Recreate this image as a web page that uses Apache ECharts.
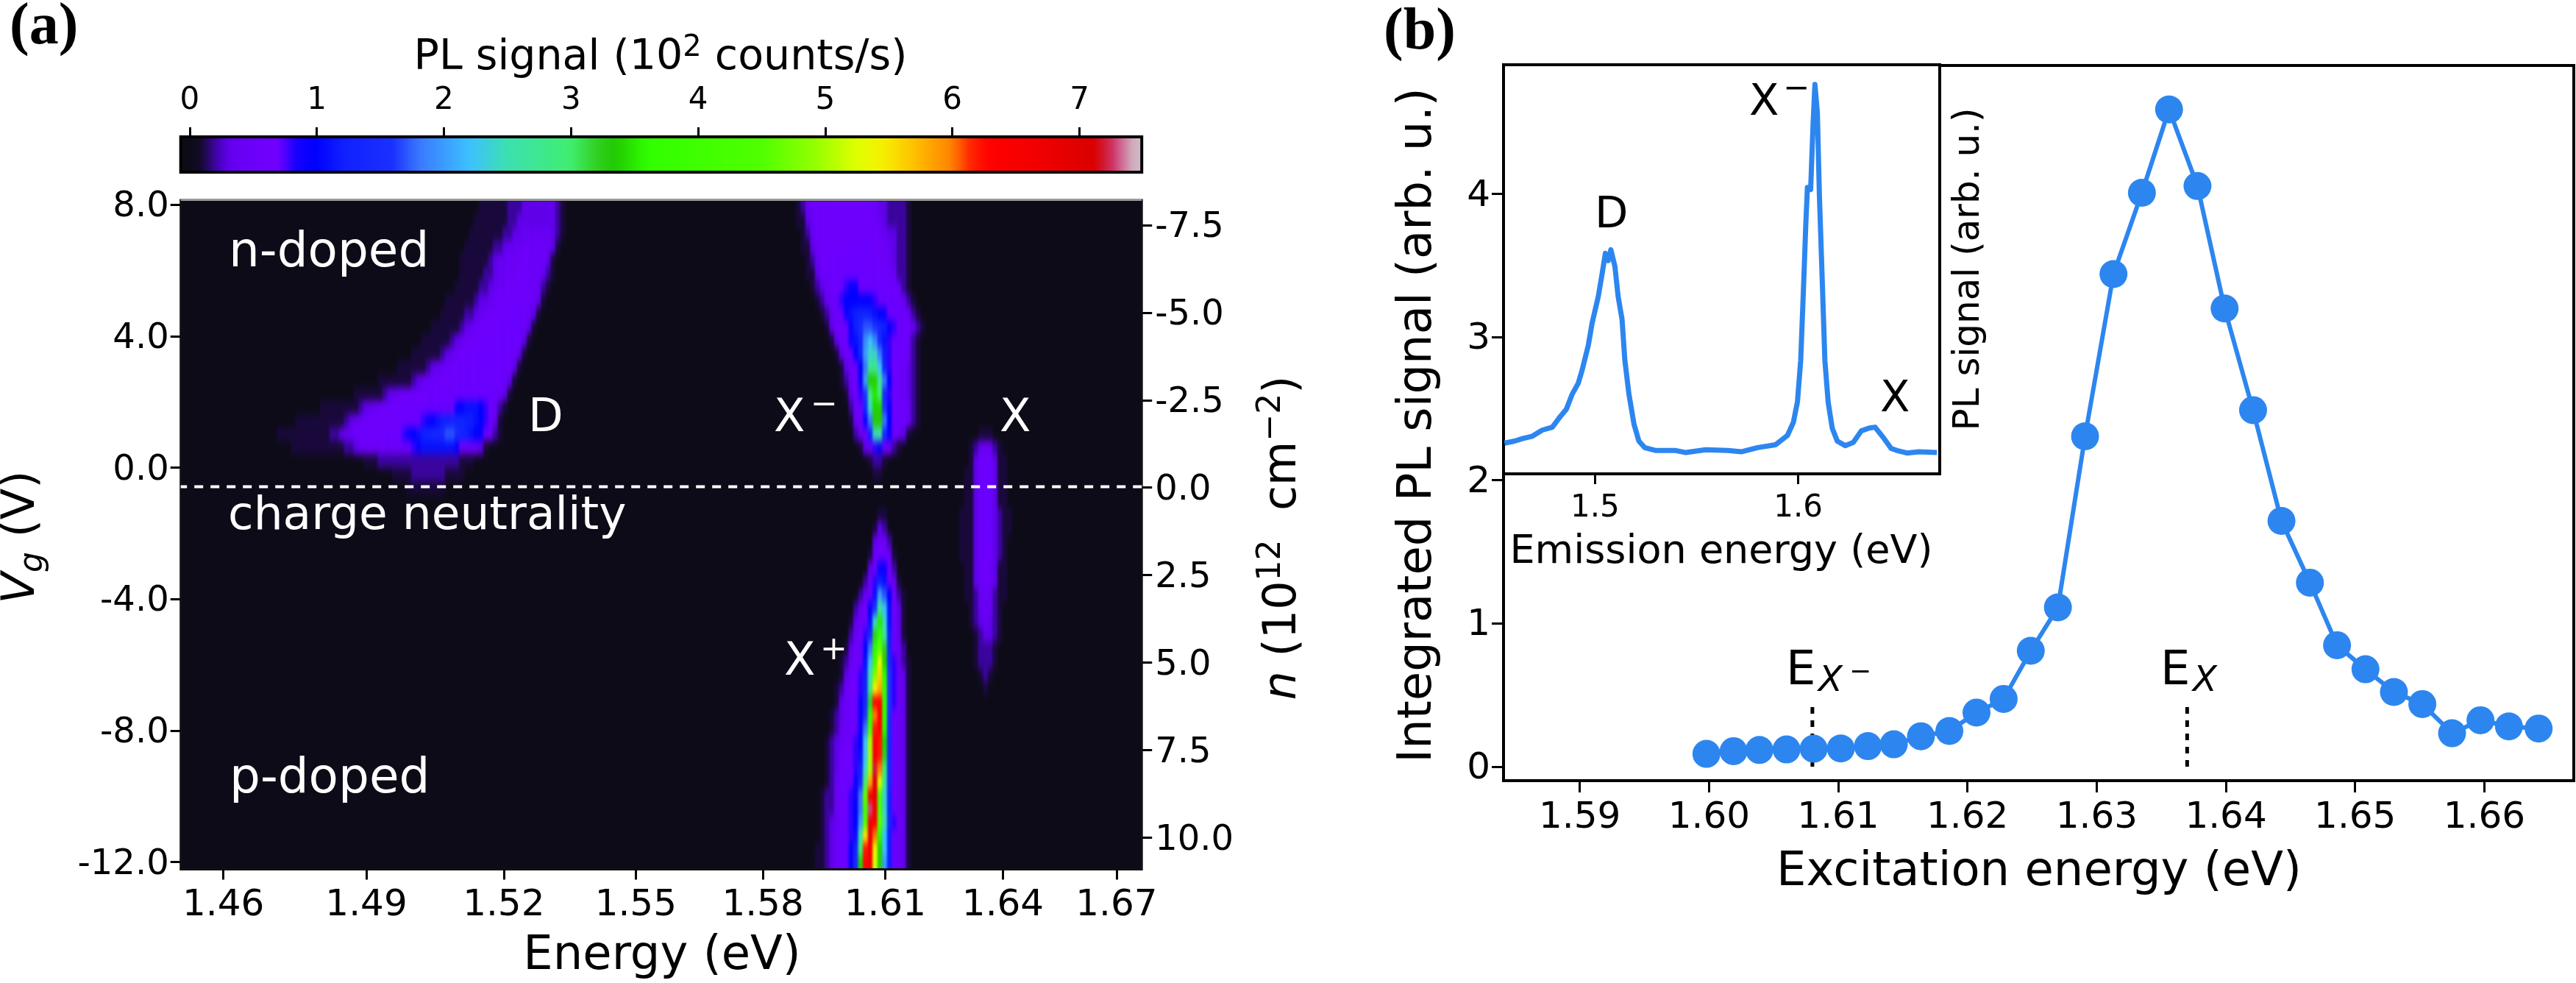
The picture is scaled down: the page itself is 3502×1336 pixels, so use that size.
<!DOCTYPE html>
<html><head><meta charset="utf-8">
<script src="https://cdn.jsdelivr.net/npm/echarts@6/dist/echarts.min.js"></script>
<style>
html,body{margin:0;padding:0;background:#fff}
#c{width:3502px;height:1336px}
/* the map layer: soft sensor-like pixels, cut to the axes frame */
canvas[data-zr-dom-id="zr_-1"]{background:#0d0b17;filter:url(#heatSoft);clip-path:inset(272px 1949.8px 154.5px 245.7px)}
</style>
</head><body>
<svg width="0" height="0" style="position:absolute"><filter id="heatSoft" x="0" y="0" width="100%" height="100%" color-interpolation-filters="sRGB"><feGaussianBlur stdDeviation="1.8 6"/></filter></svg>
<div id="c"></div>
<script>
// ---------- panel (a): PL map ----------
// every row: [rowIndex, firstColumn, values...]; values in tenths of 10^2 counts/s
const defectBand = [
[0,62,1,1,1,1,1,1,2,2,2,3,3,3,3,3,3,3,2,1],
[1,61,1,1,1,1,1,1,1,2,2,3,3,3,3,3,3,3,3,2,1],
[2,60,1,1,1,1,1,1,1,2,2,3,3,4,4,4,4,4,4,3,2,1],
[3,59,1,1,1,1,1,1,2,2,3,4,4,5,5,5,5,5,5,4,3,1],
[4,58,1,1,1,1,1,1,2,3,4,4,5,5,5,6,6,5,5,5,3,1],
[5,58,1,1,1,1,1,2,2,3,4,5,5,5,6,6,6,5,5,4,2,1],
[6,57,1,1,1,1,1,2,2,3,4,5,5,6,6,6,6,6,5,4,2,1],
[7,55,1,1,1,1,1,1,2,3,3,4,5,6,6,6,6,6,6,6,5,3,1],
[8,54,1,1,1,1,1,2,2,3,4,5,6,6,6,6,7,7,7,6,5,3,1],
[9,52,1,1,1,1,1,1,2,3,4,5,6,6,6,7,7,7,7,7,7,6,3,1],
[10,50,1,1,1,1,1,1,2,3,4,5,6,6,6,7,7,7,7,7,7,7,6,3,1],
[11,48,1,1,1,1,1,1,2,3,4,5,6,6,6,7,7,7,7,7,7,7,7,6,3,1],
[12,45,1,1,1,1,1,1,2,3,4,5,6,6,6,7,7,7,7,7,7,7,7,7,7,6,3,1],
[13,41,1,1,1,1,1,1,1,2,3,4,5,6,6,6,6,7,7,7,7,7,7,7,7,7,7,7,6,3,1],
[14,36,1,1,1,1,1,1,2,3,4,5,6,6,6,6,6,7,7,7,7,7,7,7,7,7,7,7,7,7,7,7,5,3,1],
[15,29,1,1,1,1,1,1,1,1,2,3,4,5,6,6,6,6,6,7,7,7,7,7,7,7,7,7,7,7,9,10,11,11,11,10,8,6,4,2,1],
[16,24,1,1,1,1,1,1,1,1,1,1,2,3,4,5,6,6,6,6,6,6,6,7,7,7,7,7,8,9,10,11,12,12,13,13,13,12,12,11,10,8,6,3,1],
[17,20,1,1,1,1,1,1,1,1,1,1,1,2,2,3,4,5,6,6,6,6,6,6,6,7,7,7,8,9,10,11,12,13,14,14,15,17,17,15,13,12,11,10,9,7,4,2,1],
[18,23,1,1,1,1,1,1,1,1,1,1,1,2,2,3,5,6,6,6,6,6,6,6,6,7,7,8,9,11,11,11,11,11,11,11,9,7,6,6,5,3,1],
[19,38,1,1,1,2,2,2,2,2,2,2,2,2,2,2,2,2,2,2,2,2,1,1,1],
[20,44,1,1,1,1,2,2,2,2,2,2,2,1,1,1,1],
[21,47,1,1,1,1,1,1,1,1]
];
const trionMinus = [
[0,128,1,2,4,5,6,6,6,6,6,6,6,6,6,6,6,6,5,3,3,2,2,2,2,1],
[1,128,1,1,3,5,6,6,6,6,6,6,6,6,6,6,6,6,5,4,3,2,2,2,2,1],
[2,129,1,2,4,6,6,6,6,6,6,6,6,6,6,6,6,6,5,4,3,3,2,2,1],
[3,129,1,1,3,5,6,6,6,6,6,6,7,7,7,7,7,6,6,5,4,3,2,2,1],
[4,130,1,2,4,6,6,7,7,7,7,7,7,7,7,7,7,6,6,4,3,2,2,1],
[5,130,1,1,3,5,6,7,7,7,7,7,7,7,7,7,7,7,7,5,4,2,2,1],
[6,131,1,2,3,5,6,7,7,8,9,9,7,7,7,7,7,7,7,6,4,2,1],
[7,132,1,2,4,6,7,8,10,10,10,10,10,9,8,7,7,7,7,6,4,2,1],
[8,133,1,2,4,6,7,9,11,12,13,13,12,11,10,9,7,7,7,6,4,2,1],
[9,134,1,3,5,6,7,9,12,15,17,17,16,14,12,10,8,7,7,6,4,2,1],
[10,135,1,3,5,7,9,11,13,19,22,19,14,11,8,7,7,6,4,2,1],
[11,136,1,3,5,7,10,13,20,24,24,18,12,8,7,7,6,4,2,1],
[12,137,1,3,5,7,10,18,27,28,22,13,8,7,7,5,3,2,1],
[13,137,1,2,4,6,9,20,33,34,26,18,10,7,7,5,3,2,1],
[14,138,1,3,6,8,16,28,35,30,14,8,7,7,5,3,2,1],
[15,139,2,5,7,14,24,34,34,16,9,7,7,6,4,2,1],
[16,139,1,4,6,9,18,33,33,18,10,7,7,6,4,2,1],
[17,140,2,4,7,12,24,26,14,9,7,5,3,1],
[18,141,1,3,6,8,9,7,5,2,1],
[19,143,1,2,2,1],
[20,144,1,1]
];
const exciton = [
[17,166,1,1,1],
[18,164,1,2,4,5,4,2,1],
[19,164,1,3,6,6,6,3,1,1],
[20,163,1,1,3,6,7,7,3,1,1],
[21,163,1,1,3,6,7,7,3,1,1],
[22,163,1,1,3,6,7,7,3,1,1],
[23,162,1,1,1,3,6,7,7,3,2,1,1],
[24,162,1,1,1,3,6,7,7,3,2,1,1],
[25,162,1,1,1,3,6,7,7,3,2,1],
[26,162,1,1,1,3,6,7,6,3,2,1],
[27,163,1,1,3,5,6,5,3,1,1],
[28,163,1,1,3,5,6,5,3,1,1],
[29,163,1,1,2,4,5,4,2,1,1],
[30,164,1,2,4,4,4,2,1],
[31,164,1,2,3,4,3,2,1],
[32,165,1,2,3,3,2,1],
[33,165,1,2,2,2,1],
[34,165,1,2,2,2,1],
[35,166,1,2,1],
[36,167,1]
];
const trionPlus = [
[23,145,1,1],
[24,144,1,3,2],
[25,144,3,5,5,2],
[26,143,1,4,6,6,4,1],
[27,143,3,6,9,9,6,2],
[28,142,2,5,8,12,11,7,4,1],
[29,141,2,4,7,11,20,17,10,6,2,1],
[30,140,2,4,6,9,16,27,22,11,6,3,1],
[31,139,1,3,5,7,11,24,35,24,11,6,3,1],
[32,139,2,4,6,8,14,32,38,26,12,7,3,1],
[33,138,1,3,5,7,10,18,36,46,32,13,7,4,2],
[34,137,1,2,4,6,7,11,22,40,53,34,14,8,4,2,1],
[35,137,1,3,5,7,8,12,26,48,56,36,16,8,5,3,1],
[36,136,1,2,4,6,7,8,13,28,54,58,38,16,8,5,3,1],
[37,136,1,3,5,6,7,9,14,32,64,63,38,16,8,5,3,1],
[38,135,1,2,3,5,7,7,9,16,38,60,64,38,15,7,5,3,1],
[39,135,1,2,4,5,7,7,9,18,42,62,63,36,14,7,5,3,1],
[40,134,1,2,3,4,6,7,8,10,22,50,64,62,34,14,7,5,3,1],
[41,134,1,2,3,5,6,7,8,11,22,50,65,62,32,14,7,5,3,1],
[42,134,1,2,3,5,6,7,8,12,24,50,72,60,30,14,7,5,3,1],
[43,134,1,2,4,6,7,7,9,14,30,58,70,52,28,14,7,5,3,1],
[44,133,1,2,2,4,6,7,8,9,18,46,66,68,44,24,13,7,5,3,1],
[45,133,1,2,2,4,6,7,8,10,18,42,73,66,44,24,13,7,5,3,1],
[46,133,1,2,3,4,6,7,8,10,20,44,66,66,46,26,14,8,5,3,1],
[47,133,1,2,3,5,7,7,8,11,26,55,68,60,36,22,12,7,5,3,1],
[48,132,1,1,2,3,5,7,7,9,13,30,62,66,54,34,22,12,7,5,3,1],
[49,132,1,1,2,3,5,7,7,9,14,34,63,65,52,34,20,12,7,5,3,1]
];
const heatColumnCount = 200, heatRowCount = 50;
const neutralityVg = -0.58;

// colour map stops: [10^2 counts/s, colour]
const colormapStops = [[-0.07,'#0d0b17'],[0.05,'#0d0b17'],[0.1,'#170a35'],[0.2,'#3a04a0'],[0.28,'#5f00e8'],[0.4,'#6800f5'],[0.7,'#7000ff'],[0.76,'#4a00ff'],[0.85,'#1000ff'],[1.0,'#0000ff'],[1.2,'#1020ff'],[1.6,'#1a30ff'],[1.8,'#3a78ff'],[2.2,'#3cc0ff'],[2.5,'#3ce0b0'],[3.0,'#40ee70'],[3.2,'#30d020'],[3.35,'#20c800'],[3.6,'#30ff00'],[4.5,'#50ff00'],[4.9,'#90ff00'],[5.25,'#e0ff00'],[5.45,'#f5f000'],[5.7,'#ffc000'],[6.0,'#ff8000'],[6.15,'#ff2000'],[6.3,'#ff0000'],[6.7,'#f00000'],[7.15,'#d80000'],[7.2,'#d02040'],[7.3,'#d04080'],[7.38,'#d0a0b0'],[7.5,'#d0c0d0']];

const energyTicks = [1.46,1.49,1.52,1.55,1.58,1.61,1.64,1.67];
const energyRange = [1.4513,1.6768];
const vgTicks = [-12,-8,-4,0,4,8];
const densityTicks = [-7.5,-5,-2.5,0,2.5,5,7.5,10];
const colorbarTicks = [0,1,2,3,4,5,6,7];

// ---------- panel (b) ----------
const excitationEnergy = [1.5998,1.6019,1.6039,1.6060,1.6081,1.6102,1.6123,1.6143,1.6164,1.6186,1.6207,1.6228,1.6249,1.6270,1.6291,1.6313,1.6335,1.6356,1.6378,1.6399,1.6421,1.6443,1.6465,1.6486,1.6508,1.6530,1.6552,1.6575,1.6597,1.6619,1.6642];
const integratedPL = [0.089,0.108,0.116,0.12,0.125,0.127,0.143,0.156,0.212,0.249,0.377,0.473,0.809,1.112,2.307,3.44,4.008,4.59,4.055,3.2,2.49,1.716,1.285,0.848,0.68,0.521,0.437,0.233,0.324,0.281,0.266];
const resonanceMarks = [1.608,1.637];
const resonanceMarkTop = 0.445;
const excitationTicks = [1.59,1.60,1.61,1.62,1.63,1.64,1.65,1.66];
const integratedTicks = [0,1,2,3,4];
const emissionEnergy = [1.4555,1.4604,1.4643,1.4692,1.4741,1.4790,1.4829,1.4859,1.4888,1.4918,1.4937,1.4967,1.4986,1.5016,1.5035,1.5051,1.5065,1.5078,1.5098,1.5114,1.5133,1.5147,1.5167,1.5192,1.5216,1.5245,1.5300,1.5398,1.5447,1.5545,1.5653,1.5722,1.5800,1.5888,1.5947,1.5976,1.5996,1.6012,1.6025,1.6037,1.6045,1.6061,1.6073,1.6082,1.6094,1.6104,1.6120,1.6131,1.6147,1.6167,1.6192,1.6231,1.6271,1.6310,1.6349,1.6378,1.6418,1.6457,1.6486,1.6535,1.6594,1.6682];
const emissionSignal = [7.5,8.0,8.6,9.2,10.7,11.4,14.0,15.8,19.5,22.2,25.4,31.4,36.9,43.3,48.9,53.9,52.1,54.8,50.7,43.3,37.8,27.7,19.5,12.1,8.0,6.4,5.7,5.7,5.2,5.9,5.7,5.4,6.4,7.1,9.4,12.6,17.6,27.7,44.3,60.8,70.0,69.5,85.6,95.2,88.3,68.1,44.3,27.7,17.6,11.2,8.0,6.9,7.7,10.5,11.2,11.4,8.9,6.2,5.7,5.1,5.4,5.2];
const emissionTicks = [1.5,1.6];

// ---------- building ----------
const FONT = 'DejaVu Sans', BLUE = '#2d86ef';
const hcKey = 1239.84;
const toWave = e => hcKey / e;
const zip = (a, b) => a.map((v, i) => [v, b[i]]);
const waveMin = toWave(energyRange[1]), waveMax = toWave(energyRange[0]);

// two hidden rows above and below the frame keep the soft edge of the map layer from fading at the frame
const EDGE = 2;
const cells = new Map();
const putCell = (c, r, v) => { const k = c + ':' + r; cells.set(k, Math.max(cells.get(k) || 0, v)); };
[defectBand, trionMinus, exciton, trionPlus].forEach(band => band.forEach(row => {
  const r = row[0], c0 = row[1];
  row.slice(2).forEach((v, i) => {
    putCell(c0 + i, r + EDGE, v);
    if (r === 0) for (let e = 0; e < EDGE; e++) putCell(c0 + i, e, v);
    if (r === heatRowCount - 1) for (let e = 1; e <= EDGE; e++) putCell(c0 + i, r + EDGE + e, v);
  });
}));
const heatData = [...cells].map(([k, v]) => { const p = k.split(':'); return [+p[0], +p[1], v / 10]; });

function hex(c){return [1,3,5].map(i=>parseInt(c.substr(i,2),16));}
function sampleMap(v){
  for(let i=1;i<colormapStops.length;i++){
    const a=colormapStops[i-1],b=colormapStops[i];
    if(v<=b[0]){const t=Math.max(0,(v-a[0])/(b[0]-a[0]));const A=hex(a[1]),B=hex(b[1]);
      return 'rgb('+A.map((x,j)=>Math.round(x+(B[j]-x)*t)).join(',')+')';}
  }
  return colormapStops[colormapStops.length-1][1];
}
const CB_MIN=-0.07, CB_MAX=7.49, cmap=[];
for(let i=0;i<=150;i++) cmap.push(sampleMap(CB_MIN+(CB_MAX-CB_MIN)*i/150));

const A = {left:245.7, top:272, width:1306.5, height:909.5};
const B = {left:2044, top:89, width:1455, height:972};
const IN = {left:2044, top:88, width:593, height:556};
const rowH = A.height / heatRowCount;
const HEAT = {left:A.left, top:A.top-EDGE*rowH, width:A.width, height:A.height+2*EDGE*rowH};

function t(text,x,y,size,o){
  o=o||{};
  return {type:'text',x:x,y:y,rotation:o.rot||0,z:50,silent:true,style:{
    text:text,fill:o.fill||'#000',font:(o.italic?'italic ':'')+(o.bold?'bold ':'')+size+'px '+(o.family||FONT),
    align:o.align||'left',verticalAlign:'middle',rich:o.rich}};
}
const R = Math.PI/2;
const texts = [
  t('(a)',13,38,80,{family:'Liberation Serif',bold:true}),
  t('(b)',1881,45,80,{family:'Liberation Serif',bold:true}),
  t('{a|PL signal (10}{s|2}{a| counts/s)}',898,79,0,{align:'center',rich:{a:{font:'57px '+FONT,fill:'#000',lineHeight:66},s:{font:'40px '+FONT,fill:'#000',lineHeight:36,verticalAlign:'top'}}}),
  t('Energy (eV)',900,1300,64,{align:'center'}),
  t('{i|V}{g|g}{a| (V)}',30,730,0,{align:'center',rot:R,rich:{i:{font:'italic 62px '+FONT,fill:'#000',lineHeight:76},g:{font:'italic 44px '+FONT,fill:'#000',lineHeight:40,verticalAlign:'bottom'},a:{font:'62px '+FONT,fill:'#000',lineHeight:76}}}),
  t('{i|n}{a| (10}{s|12}{a|  cm}{s|\u22122}{a|)}',1745,731,0,{align:'center',rot:R,rich:{i:{font:'italic 62px '+FONT,fill:'#000',lineHeight:76},a:{font:'62px '+FONT,fill:'#000',lineHeight:76},s:{font:'44px '+FONT,fill:'#000',lineHeight:40,verticalAlign:'top'}}}),
  t('n-doped',311,345,66,{fill:'#fff'}),
  t('charge neutrality',310,703,63,{fill:'#fff'}),
  t('p-doped',312,1060,66,{fill:'#fff'}),
  t('D',718,570,62,{fill:'#fff'}),
  t('X',1052,570,62,{fill:'#fff'}),
  t('\u2212',1102,552,44,{fill:'#fff'}),
  t('X',1359,570,62,{fill:'#fff'}),
  t('X',1066,901,62,{fill:'#fff'}),
  t('+',1115,885,44,{fill:'#fff'}),
  t('Integrated PL signal (arb. u.)',1928,578,64,{align:'center',rot:R}),
  t('Excitation energy (eV)',2772,1186,64,{align:'center'}),
  t('Emission energy (eV)',2340,751,54,{align:'center'}),
  t('PL signal (arb. u.)',2677,366,50,{align:'center',rot:R}),
  t('D',2168,294,59),
  t('X',2378,141,59),
  t('\u2212',2424,122,43),
  t('X',2556,544,59),
  t('E',2428,913,64),
  t('X',2472,927,48,{italic:true}),
  t('\u2212',2514,915,36),
  t('E',2937,913,64),
  t('X',2981,927,48,{italic:true})
];
texts.push({type:'rect',silent:true,z:49,shape:{x:A.left,y:270,width:A.width,height:3},style:{fill:'#999'}});

const axisFont = s => ({fontFamily:FONT,fontSize:s,color:'#000'});
const tickStyle = (w,len) => ({show:true,length:len,lineStyle:{color:'#000',width:w}});
const hiddenLine = {show:false,onZero:false};
// y tick labels sit a few pixels under their ticks in the reference
const yLabel = (size,margin,drop,values,fmt) => ({
  margin:margin,customValues:values,
  formatter:v=>'{v|'+fmt(v)+'}',
  rich:{v:{fontFamily:FONT,fontSize:size,color:'#000',padding:[drop,0,0,0]}}
});

const option = {
  animation:false,
  textStyle:{fontFamily:FONT},
  graphic:{elements:texts},
  visualMap:[{
    type:'continuous',seriesIndex:0,min:CB_MIN,max:CB_MAX,orient:'horizontal',
    left:A.left,top:187,itemWidth:46,itemHeight:A.width,padding:0,
    text:null,showLabel:false,calculable:false,hoverLink:false,z:1,
    inRange:{color:cmap},outOfRange:{color:'#0d0b17'}
  }],
  grid:[
    Object.assign({show:false,zlevel:-1},HEAT),
    Object.assign({show:true,backgroundColor:'transparent',borderColor:'#111',borderWidth:3,z:3},A),
    {left:A.left,top:186,width:A.width,height:48,show:true,backgroundColor:'transparent',borderColor:'#000',borderWidth:4,z:3},
    Object.assign({show:true,backgroundColor:'transparent',borderColor:'#000',borderWidth:4,z:1},B),
    Object.assign({show:true,backgroundColor:'#fff',borderColor:'#000',borderWidth:4,z:5},IN)
  ],
  xAxis:[
    {gridIndex:0,type:'category',show:false,data:Array.from({length:heatColumnCount},(_,i)=>i)},
    {gridIndex:1,type:'value',inverse:true,min:waveMin,max:waveMax,position:'bottom',splitLine:{show:false},axisLine:hiddenLine,z:8,
      axisTick:Object.assign(tickStyle(3,14),{customValues:energyTicks.map(toWave)}),
      axisLabel:Object.assign(axisFont(50),{margin:25,customValues:energyTicks.map(toWave),formatter:v=>(hcKey/v).toFixed(2)})},
    {gridIndex:2,type:'value',min:CB_MIN,max:CB_MAX,position:'top',splitLine:{show:false},axisLine:hiddenLine,z:8,
      axisTick:Object.assign(tickStyle(3,13),{customValues:colorbarTicks}),
      axisLabel:Object.assign(axisFont(42),{margin:28,customValues:colorbarTicks,formatter:v=>String(v)})},
    {gridIndex:3,type:'value',min:1.5841,max:1.66692,position:'bottom',splitLine:{show:false},axisLine:hiddenLine,z:8,
      axisTick:Object.assign(tickStyle(3,16),{customValues:excitationTicks}),
      axisLabel:Object.assign(axisFont(50),{margin:26,customValues:excitationTicks,formatter:v=>v.toFixed(2)})},
    {gridIndex:4,type:'value',min:1.455,max:1.6696,position:'bottom',splitLine:{show:false},axisLine:hiddenLine,z:8,
      axisTick:Object.assign(tickStyle(3,14),{customValues:emissionTicks}),
      axisLabel:Object.assign(axisFont(42),{margin:26,customValues:emissionTicks,formatter:v=>v.toFixed(1)})}
  ],
  yAxis:[
    {gridIndex:0,type:'category',show:false,inverse:true,data:Array.from({length:heatRowCount+2*EDGE},(_,i)=>i)},
    {gridIndex:1,type:'value',position:'left',min:-12.22,max:8.14,splitLine:{show:false},axisLine:hiddenLine,
      axisTick:Object.assign(tickStyle(3,14),{customValues:vgTicks}),
      axisLabel:yLabel(48,16,7,vgTicks,v=>v.toFixed(1))},
    {gridIndex:1,type:'value',position:'right',inverse:true,min:-8.21,max:10.9,splitLine:{show:false},axisLine:hiddenLine,
      axisTick:Object.assign(tickStyle(3,14),{customValues:densityTicks}),
      axisLabel:yLabel(48,18,8,densityTicks,v=>v.toFixed(1))},
    {gridIndex:2,type:'value',show:false,min:0,max:1},
    {gridIndex:3,type:'value',min:-0.098,max:4.897,splitLine:{show:false},axisLine:hiddenLine,
      axisTick:Object.assign(tickStyle(3,16),{customValues:integratedTicks}),
      axisLabel:yLabel(50,18,6,integratedTicks,v=>String(v))},
    {gridIndex:4,type:'value',show:false,min:0,max:100}
  ],
  series:[
    {type:'heatmap',xAxisIndex:0,yAxisIndex:0,data:heatData,zlevel:-1,z:2,silent:true,progressive:0},
    {type:'line',xAxisIndex:1,yAxisIndex:1,z:4,silent:true,symbol:'none',
      data:[[waveMin,neutralityVg],[waveMax,neutralityVg]],
      lineStyle:{color:'#fff',width:4,type:[12,10]}},
    {type:'line',xAxisIndex:2,yAxisIndex:3,data:[],silent:true},
    {type:'line',xAxisIndex:3,yAxisIndex:4,z:2,silent:true,symbol:'none',data:[[resonanceMarks[0],0],[resonanceMarks[0],resonanceMarkTop]],lineStyle:{color:'#000',width:5,type:[9,9]}},
    {type:'line',xAxisIndex:3,yAxisIndex:4,z:2,silent:true,symbol:'none',data:[[resonanceMarks[1],0],[resonanceMarks[1],resonanceMarkTop]],lineStyle:{color:'#000',width:5,type:[9,9]}},
    {type:'line',xAxisIndex:3,yAxisIndex:4,z:3,silent:true,symbol:'circle',symbolSize:38,data:zip(excitationEnergy,integratedPL),
      lineStyle:{color:BLUE,width:6},itemStyle:{color:BLUE}},
    {type:'line',xAxisIndex:4,yAxisIndex:5,z:6,silent:true,symbol:'none',data:zip(emissionEnergy,emissionSignal),
      lineStyle:{color:BLUE,width:7,join:'round'}}
  ]
};
const chart = echarts.init(document.getElementById('c'),null,{renderer:'canvas',width:3502,height:1336});
chart.setOption(option);
</script></body></html>
